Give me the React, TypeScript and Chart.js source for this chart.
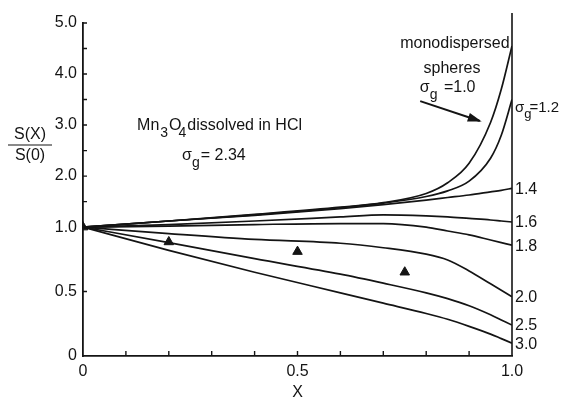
import React, { useEffect, useRef } from 'react';
import { Chart, registerables, LinearScale } from 'chart.js';

// ---------- data ----------
const X_VALUES = [0, 0.2, 0.4, 0.6, 0.7, 0.8, 0.85, 0.9, 0.95, 0.975, 1.0];
const SIGMA_1_0 = [1.0, 1.12, 1.25, 1.39, 1.48, 1.66, 1.87, 2.25, 3.05, 3.7, 4.55];
const SIGMA_1_2 = [1.0, 1.12, 1.24, 1.38, 1.47, 1.6, 1.71, 1.9, 2.35, 2.8, 3.5];
const SIGMA_1_4 = [1.0, 1.12, 1.23, 1.36, 1.44, 1.53, 1.58, 1.63, 1.69, 1.72, 1.76];
const SIGMA_1_6 = [1.0, 1.05, 1.12, 1.2, 1.24, 1.22, 1.2, 1.17, 1.14, 1.12, 1.1];
const SIGMA_1_8 = [1.0, 1.02, 1.05, 1.07, 1.07, 1.0, 0.97, 0.94, 0.9, 0.88, 0.86];
const SIGMA_2_0 = [1.0, 0.95, 0.905, 0.875, 0.84, 0.79, 0.745, 0.66, 0.56, 0.51, 0.46];
const SIGMA_2_5 = [1.0, 0.88, 0.755, 0.635, 0.565, 0.49, 0.445, 0.39, 0.32, 0.28, 0.24];
const SIGMA_3_0 = [1.0, 0.82, 0.65, 0.49, 0.41, 0.33, 0.285, 0.23, 0.17, 0.135, 0.1];
const SERIES = [SIGMA_1_0, SIGMA_1_2, SIGMA_1_4, SIGMA_1_6, SIGMA_1_8, SIGMA_2_0, SIGMA_2_5, SIGMA_3_0];
const SERIES_LABELS = ['1.0', '1.2', '1.4', '1.6', '1.8', '2.0', '2.5', '3.0'];

// measured points, Mn3O4 dissolved in HCl (sigma_g = 2.34)
const MEASURED_X = [0, 0.2, 0.5, 0.75];
const MEASURED_Y = [1.0, 0.885, 0.81, 0.65];

const Y_TICKS = [0, 0.5, 1, 1.5, 2, 2.5, 3, 3.5, 4, 4.5, 5];
const Y_LABELED = [0, 0.5, 1, 2, 3, 4, 5];
const X_TICKS = [0, 0.1, 0.2, 0.3, 0.4, 0.5, 0.6, 0.7, 0.8, 0.9, 1.0];
const X_LABELED = [0, 0.5, 1];

// ---------- broken (piecewise linear) y scale ----------
const BREAK = 1;
const UPPER_RATIO = 51 / 128.8;

class BrokenLinearScale extends LinearScale {
  static id = 'brokenLinear';
  static defaults = {};
  fwd(v: number) {
    return v <= BREAK ? v : BREAK + (v - BREAK) * UPPER_RATIO;
  }
  inv(t: number) {
    return t <= BREAK ? t : BREAK + (t - BREAK) / UPPER_RATIO;
  }
  getPixelForValue(value: number) {
    if (value === null || value === undefined || isNaN(value)) return NaN;
    const a = this.fwd(this.min);
    const b = this.fwd(this.max);
    return this.getPixelForDecimal((this.fwd(value) - a) / (b - a));
  }
  getValueForPixel(pixel: number) {
    const a = this.fwd(this.min);
    const b = this.fwd(this.max);
    return this.inv(a + this.getDecimalForPixel(pixel) * (b - a));
  }
}

Chart.register(...registerables, BrokenLinearScale);

const INK = '#141414';
const FONT = '"Liberation Sans", Arial, Helvetica, sans-serif';

type Part = { t: string; sub?: boolean; dx?: number };

function drawRich(ctx: CanvasRenderingContext2D, parts: Part[], x: number, y: number, size: number, align: 'left' | 'center' = 'left') {
  const subSize = Math.round(size * 0.85);
  const measure = () => {
    let w = 0;
    for (const p of parts) {
      ctx.font = `${p.sub ? subSize : size}px ${FONT}`;
      w += (p.dx || 0) + ctx.measureText(p.t).width;
    }
    return w;
  };
  let cx = align === 'center' ? x - measure() / 2 : x;
  ctx.textAlign = 'left';
  ctx.textBaseline = 'alphabetic';
  for (const p of parts) {
    ctx.font = `${p.sub ? subSize : size}px ${FONT}`;
    cx += p.dx || 0;
    ctx.fillText(p.t, cx, p.sub ? y + size * 0.42 : y);
    cx += ctx.measureText(p.t).width;
  }
}

const decorations = {
  id: 'decorations',
  afterDraw(chart: any) {
    const ctx: CanvasRenderingContext2D = chart.ctx;
    const xs = chart.scales.x;
    const ys = chart.scales.y;
    const area = chart.chartArea;
    ctx.save();
    ctx.strokeStyle = INK;
    ctx.fillStyle = INK;
    ctx.lineWidth = 1.6;
    // right frame line at x = 1.0
    ctx.beginPath();
    ctx.moveTo(area.right, area.top - 10);
    ctx.lineTo(area.right, area.bottom);
    ctx.stroke();
    // inward tick marks
    ctx.lineWidth = 1.4;
    ctx.beginPath();
    Y_TICKS.forEach((v) => {
      if (v === 0) return;
      const py = ys.getPixelForValue(v);
      ctx.moveTo(area.left, py);
      ctx.lineTo(area.left + 4, py);
    });
    X_TICKS.forEach((v) => {
      if (v === 0 || v === 1) return;
      const px = xs.getPixelForValue(v);
      ctx.moveTo(px, area.bottom);
      ctx.lineTo(px, area.bottom - 5);
    });
    ctx.stroke();

    // y-axis title as fraction
    ctx.font = `16px ${FONT}`;
    ctx.textAlign = 'center';
    ctx.textBaseline = 'middle';
    ctx.fillText('S(X)', 30, 135);
    ctx.fillText('S(0)', 30, 156);
    ctx.lineWidth = 1.2;
    ctx.beginPath();
    ctx.moveTo(8, 145);
    ctx.lineTo(52, 145);
    ctx.stroke();

    // annotation: Mn3O4 dissolved in HCl
    const ax = xs.getPixelForValue(0.126);
    const ay = ys.getPixelForValue(2.9);
    drawRich(ctx, [
      { t: 'Mn' },
      { t: '3', sub: true, dx: 1 },
      { t: 'O', dx: 1 },
      { t: '4', sub: true, dx: -3 },
      { t: 'dissolved in HCl', dx: 1 },
    ], ax, ay, 16);
    drawRich(ctx, [
      { t: 'σ' },
      { t: 'g', sub: true },
      { t: '= 2.34', dx: 1 },
    ], xs.getPixelForValue(0.231), ys.getPixelForValue(2.31), 16);

    // monodispersed spheres
    const mx = xs.getPixelForValue(0.867);
    ctx.font = `16px ${FONT}`;
    ctx.textAlign = 'center';
    ctx.textBaseline = 'middle';
    ctx.fillText('monodispersed', mx, ys.getPixelForValue(4.6));
    ctx.fillText('spheres', xs.getPixelForValue(0.86), ys.getPixelForValue(4.1));
    drawRich(ctx, [
      { t: 'σ' },
      { t: 'g', sub: true },
      { t: ' =1.0', dx: 2 },
    ], xs.getPixelForValue(0.85), ys.getPixelForValue(3.64), 16, 'center');

    // arrow
    const tx = xs.getPixelForValue(0.786), ty = ys.getPixelForValue(3.47);
    const hx = xs.getPixelForValue(0.925), hy = ys.getPixelForValue(3.08);
    ctx.lineWidth = 2;
    ctx.beginPath();
    ctx.moveTo(tx, ty);
    ctx.lineTo(hx, hy);
    ctx.stroke();
    const ang = Math.atan2(hy - ty, hx - tx);
    ctx.beginPath();
    ctx.moveTo(hx + 2 * Math.cos(ang), hy + 2 * Math.sin(ang));
    ctx.lineTo(hx - 12 * Math.cos(ang) + 4.5 * Math.sin(ang), hy - 12 * Math.sin(ang) - 4.5 * Math.cos(ang));
    ctx.lineTo(hx - 12 * Math.cos(ang) - 4.5 * Math.sin(ang), hy - 12 * Math.sin(ang) + 4.5 * Math.cos(ang));
    ctx.closePath();
    ctx.fill();

    // right-side series labels
    const rx = area.right + 3;
    SERIES.forEach((s, i) => {
      if (i === 0) return;
      const py = ys.getPixelForValue(s[s.length - 1]);
      if (i === 1) {
        drawRich(ctx, [
          { t: 'σ' },
          { t: 'g', sub: true },
          { t: '=1.2', dx: -2 },
        ], rx, py + 12, 15);
      } else {
        ctx.font = `16px ${FONT}`;
        ctx.textAlign = 'left';
        ctx.textBaseline = 'middle';
        ctx.fillText(SERIES_LABELS[i], rx, py + 1);
      }
    });
    ctx.restore();
  },
};

export default function App() {
  const ref = useRef<HTMLCanvasElement>(null);
  useEffect(() => {
    document.body.style.margin = '0';
    const lineSets = SERIES.map((s, i) => ({
      type: 'line' as const,
      label: 'σg = ' + SERIES_LABELS[i],
      data: X_VALUES.map((x, j) => ({ x, y: s[j] })),
      borderColor: INK,
      borderWidth: 1.7,
      pointRadius: 0,
      fill: false,
      cubicInterpolationMode: 'monotone' as const,
      order: 2,
    }));
    const measured = {
      type: 'scatter' as const,
      label: 'Mn3O4 dissolved in HCl',
      data: MEASURED_X.map((x, j) => ({ x, y: MEASURED_Y[j] })),
      pointStyle: 'triangle',
      pointRadius: 5.5,
      backgroundColor: INK,
      borderColor: INK,
      borderWidth: 1,
      order: 1,
    };
    const tickFont = { family: FONT, size: 16 };
    const chart = new Chart(ref.current!, {
      type: 'line',
      data: { datasets: [...lineSets, measured] as any },
      plugins: [decorations],
      options: {
        responsive: false,
        animation: false,
        events: [],
        layout: { padding: { left: 0, right: 49, top: 23, bottom: 0 } },
        plugins: { legend: { display: false }, tooltip: { enabled: false } },
        scales: {
          x: {
            type: 'linear',
            min: 0,
            max: 1,
            afterBuildTicks: (s: any) => {
              s.ticks = X_TICKS.map((v) => ({ value: v }));
            },
            afterFit: (s: any) => {
              s.height = 53;
            },
            ticks: {
              autoSkip: false,
              maxRotation: 0,
              padding: 6,
              color: INK,
              font: tickFont,
              callback: (v: any) => {
                const n = Number(v);
                if (!X_LABELED.some((t) => Math.abs(t - n) < 1e-9)) return '';
                return n === 0 ? '0' : n.toFixed(1);
              },
            },
            grid: { display: false, drawTicks: false },
            border: { display: true, color: INK, width: 1.8 },
            title: {
              display: true,
              text: 'X',
              color: INK,
              font: { family: FONT, size: 16 },
              padding: { top: 0, bottom: 7 },
            },
          },
          y: {
            type: 'brokenLinear' as any,
            min: 0,
            max: 5,
            afterBuildTicks: (s: any) => {
              s.ticks = Y_TICKS.map((v) => ({ value: v }));
            },
            afterFit: (s: any) => {
              s.width = 83;
            },
            ticks: {
              autoSkip: false,
              padding: 6,
              color: INK,
              font: tickFont,
              callback: (v: any) => {
                const n = Number(v);
                if (!Y_LABELED.some((t) => Math.abs(t - n) < 1e-9)) return '';
                return n === 0 ? '0' : n.toFixed(1);
              },
            },
            grid: { display: false, drawTicks: false },
            border: { display: true, color: INK, width: 1.8 },
          } as any,
        },
      },
    });
    return () => chart.destroy();
  }, []);
  return (
    <div style={{ width: 561, height: 409, background: '#fff' }}>
      <canvas ref={ref} width={561} height={409} style={{ display: 'block' }} />
    </div>
  );
}
